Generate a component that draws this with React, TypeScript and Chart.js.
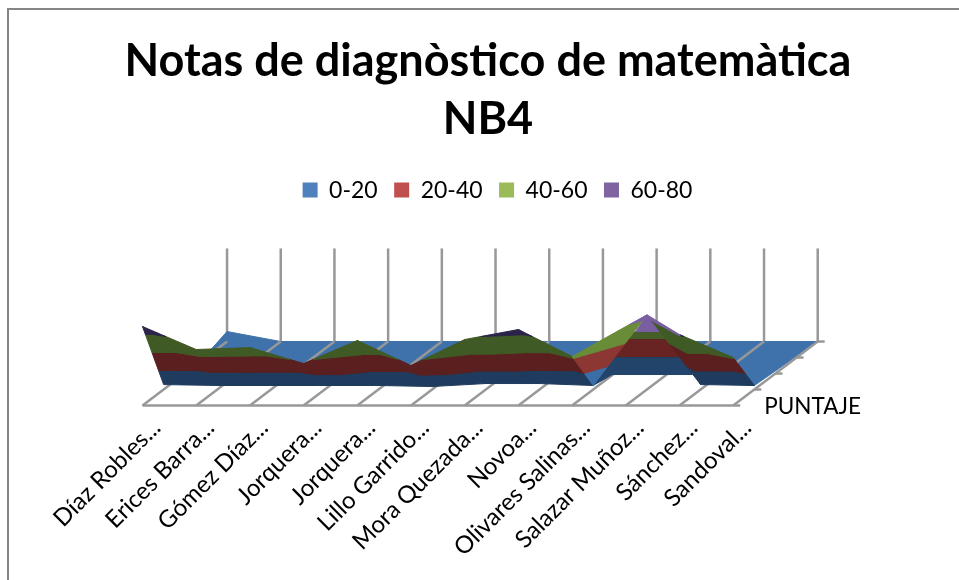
import React, { useEffect, useRef } from "react";
import { Chart, registerables } from "chart.js";

Chart.register(...registerables);

const students = ["Díaz Robles...", "Erices Barra...", "Gómez Díaz...", "Jorquera...", "Jorquera...", "Lillo Garrido...", "Mora Quezada...", "Novoa...", "Olivares Salinas...", "Salazar Muñoz...", "Sánchez...", "Sandoval..."];
const bandLabels = ["0-20", "20-40", "40-60", "60-80"];
const bandLimits = [0, 20, 40, 60, 80];
const legendColors = ["#4F81BD", "#C0504D", "#9BBB59", "#8064A2"];
const darkColors = ["#1f3b5e", "#5a1f1e", "#405a25", "#2b2348"];
const centerColors = ["#22436a", "#682422", "#465f28", "#7a5ea2"];
const brightColors = ["#3a6ea6", "#8c3733", "#688c38", "#7a5ea2"];
const sheetColor = "#3f71ab";
const gridColor = "#989898";

// Surface rows: heights per student, at the front row and at the first depth row.
const frontRow = [68.7, 48.7, 50.4, 36.5, 56.5, 34.8, 57.4, 66.1, 42.6, 65, 61.7, 41.7];
const baseRow = [4.3, 3.5, 3.5, 3.5, 3.5, 2.6, 5.2, 5.2, 3.5, 65, 4.3, 3.5];
const backRow = [8.7, 0, 0, 0, 0, 0, 0, 0, 0, 0, 0, 0];
const baseDepth = 0.25;
const depthTicks = [0, 0.25, 0.5, 0.75, 1];
const wallTop = 81;

// Salazar's recessed panel, rung by rung.
const rungValues = [4, 20, 40, 60];
const rungDepths = [0.4125, 0.406, 0.328, 0.078];
const rungLeftCols = [8.1, 8.09, 8.46, 9.06];
const rungRightCols = [9.59, 9.4, 9.26, 9.54];

const depthShiftX = 1.574;
const depthShiftY = 55.65;

type V = { c: number; d: number; v: number };
const proj = (p: V) => ({ x: p.c + p.d * depthShiftX, y: p.v + p.d * depthShiftY });
const lerp = (a: V, b: V, t: number): V => ({ c: a.c + (b.c - a.c) * t, d: a.d + (b.d - a.d) * t, v: a.v + (b.v - a.v) * t });

function clipBelow(poly: V[], limit: number, keepAbove: boolean): V[] {
  const out: V[] = [];
  const inside = (p: V) => (keepAbove ? p.v >= limit : p.v <= limit);
  poly.forEach((p, i) => {
    const q = poly[(i + 1) % poly.length];
    if (inside(p)) out.push(p);
    if (inside(p) !== inside(q)) out.push(lerp(p, q, (limit - p.v) / (q.v - p.v)));
  });
  return out;
}

function polygon(pts: V[], color: string, order: number) {
  const data = pts.map(proj);
  data.push(data[0]);
  return { label: "", data, backgroundColor: color, borderColor: color, borderWidth: 1, fill: "shape", showLine: true, pointRadius: 0, tension: 0, clip: false, order };
}

function line(a: V, b: V, order: number, width = 2.5) {
  return { label: "", data: [proj(a), proj(b)], borderColor: gridColor, backgroundColor: gridColor, borderWidth: width, showLine: true, pointRadius: 0, tension: 0, clip: false, order, fill: false };
}

function buildDatasets() {
  const sets: any[] = [];
  let order = 1000;
  const tri = (t: V[], colors: string[]) => {
    bandLabels.forEach((_, b) => {
      const part = clipBelow(clipBelow(t, bandLimits[b], true), bandLimits[b + 1], false);
      if (part.length > 2) sets.push(polygon(part, colors[b], order--));
    });
  };
  const quad = (a: V, b: V, c: V, d: V, colors: string[]) => {
    tri([a, b, c], colors);
    tri([a, c, d], colors);
  };
  const A = (i: number): V => ({ c: i, d: 0, v: frontRow[i] });
  const B = (i: number): V => ({ c: i, d: baseDepth, v: baseRow[i] });
  const C = (i: number): V => ({ c: i, d: 1, v: backRow[i] });
  const rung = (k: number, cols: number[]): V => ({ c: cols[k], d: rungDepths[k], v: rungValues[k] + 2 });

  // walls
  students.forEach((_, i) => sets.push(line({ c: i, d: 1, v: 0 }, { c: i, d: 1, v: wallTop }, order--)));
  // blue back sheet: its lower edge stays just above the foot of the surface
  const lift = (p: V): V => ({ ...p, v: p.v + 2 });
  const sheet: V[] = [{ c: 0.3, d: baseDepth, v: baseRow[0] }];
  for (let i = 1; i <= 8; i++) sheet.push(lift(B(i)));
  sheet.push(rung(0, rungLeftCols), rung(0, rungRightCols), lift(B(10)), B(11));
  for (let i = 11; i >= 0; i--) sheet.push(C(i));
  sets.push(polygon(sheet, sheetColor, order--));
  // floor
  students.forEach((_, i) => sets.push(line({ c: i, d: 0, v: 0 }, { c: i, d: 1, v: 0 }, order--)));
  sets.push(line({ c: 0, d: 0, v: 0 }, { c: 11, d: 0, v: 0 }, order--));
  depthTicks.forEach((d) => sets.push(line({ c: 11, d, v: 0 }, { c: 11.13, d, v: 0 }, order--)));

  // regular faces
  for (let i = 0; i < 11; i++) {
    if (i === 8 || i === 9) continue;
    quad(A(i), B(i), B(i + 1), A(i + 1), darkColors);
  }
  // recessed panel
  const panel = (k: number, cols: number[]): V => ({ c: cols[k], d: rungDepths[k], v: rungValues[k] });
  tri([B(8), panel(0, rungLeftCols), panel(1, rungLeftCols)], centerColors);
  for (let k = 0; k < rungValues.length - 1; k++) {
    quad(panel(k, rungLeftCols), panel(k, rungRightCols), panel(k + 1, rungRightCols), panel(k + 1, rungLeftCols), centerColors);
  }
  tri([panel(3, rungLeftCols), panel(3, rungRightCols), B(9)], centerColors);
  // lit face and right face of the peak
  tri([A(8), B(8), B(9)], brightColors);
  tri([B(9), B(10), A(10)], darkColors.map((c, i) => (i === 3 ? centerColors[3] : c)));

  const legend = bandLabels.map((label, i) => ({ label, data: [], backgroundColor: legendColors[i], borderColor: legendColors[i], borderWidth: 0, showLine: false, pointRadius: 0, order: 2000 }));
  return [...legend, ...sets];
}

const depthTitlePlugin = {
  id: "depthTitle",
  afterLayout(chart: any) {
    chart.legend.left += 18;
    chart.legend.right += 18;
    chart.titleBlock.left += 8.5;
    chart.titleBlock.right += 8.5;
  },
  afterDatasetsDraw(chart: any) {
    const { ctx, scales } = chart;
    const x = scales.x.getPixelForValue(11);
    const y = scales.y.getPixelForValue(0);
    ctx.save();
    ctx.fillStyle = "#000";
    ctx.font = "22.5px Lato";
    ctx.textAlign = "left";
    ctx.textBaseline = "middle";
    ctx.fillText("PUNTAJE", x + 31, y + 1);
    ctx.restore();
  },
};

export default function App() {
  const ref = useRef<HTMLCanvasElement>(null);
  useEffect(() => {
    document.body.style.margin = "0";
    const chart = new Chart(ref.current!, {
      type: "scatter",
      data: { datasets: buildDatasets() },
      plugins: [depthTitlePlugin],
      options: {
        animation: false,
        responsive: false,
        events: [],
        layout: { padding: 0 },
        plugins: {
          tooltip: { enabled: false },
          title: {
            display: true,
            text: ["Notas de diagnòstico de matemàtica", "NB4"],
            color: "#000",
            font: { family: "Lato", size: 45, weight: "bold", lineHeight: 1.29 },
            padding: { top: 32, bottom: 14 },
          },
          legend: {
            display: true,
            position: "top",
            labels: {
              color: "#000",
              font: { family: "Lato", size: 23 },
              boxWidth: 15,
              boxHeight: 15,
              padding: 16.5,
              filter: (item: any) => bandLabels.includes(item.text),
            },
          },
        },
        scales: {
          x: {
            type: "linear",
            min: -2.654,
            max: 15.205,
            grid: { display: false },
            border: { display: false },
            afterBuildTicks: (scale: any) => {
              scale.ticks = students.map((_, i) => ({ value: i }));
            },
            afterFit: (scale: any) => {
              scale.height = 174.5;
              scale.paddingLeft = 0;
              scale.paddingRight = 0;
            },
            ticks: {
              color: "#000",
              font: { family: "Lato", size: 24 },
              minRotation: 45,
              maxRotation: 45,
              autoSkip: false,
              labelOffset: 14,
              padding: 0,
              callback: (value: any) => students[value],
            },
          },
          y: { type: "linear", display: false, min: 0, max: 168.7 },
        },
      } as any,
    });
    return () => chart.destroy();
  }, []);
  return (
    <div style={{ position: "absolute", left: 0, top: 0, width: 959, height: 580, overflow: "hidden", background: "#fff" }}>
      <canvas ref={ref} width={959} height={580} style={{ display: "block" }} />
      <div style={{ position: "absolute", left: 7, top: 8, right: 0, bottom: 0, borderLeft: "2px solid #868686", borderTop: "2px solid #868686" }} />
    </div>
  );
}
